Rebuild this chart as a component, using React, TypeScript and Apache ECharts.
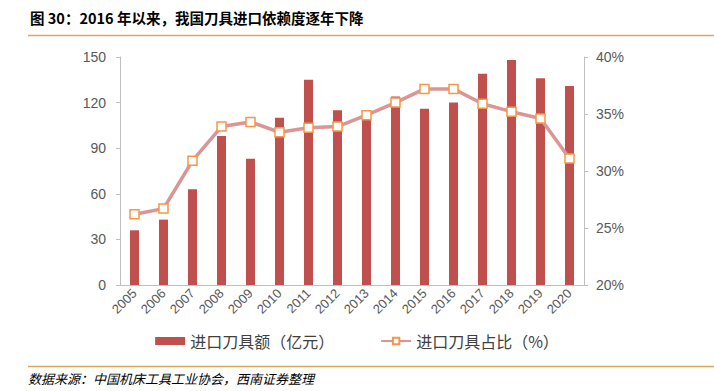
import React, { useEffect, useRef } from "react";
import * as echarts from "echarts";

const years = ["2005","2006","2007","2008","2009","2010","2011","2012","2013","2014","2015","2016","2017","2018","2019","2020"];
const importValue = [36, 43, 63, 98, 83, 110, 135, 115, 115, 124, 116, 120, 139, 148, 136, 131];
const importShare = [26.2, 26.7, 30.9, 33.9, 34.3, 33.4, 33.8, 33.9, 34.9, 36.0, 37.2, 37.2, 35.9, 35.2, 34.6, 31.1];
const leftTicks = { min: 0, max: 150, interval: 30 };
const rightTicks = { min: 20, max: 40, interval: 5 };

const titleText = "图 30：2016 年以来，我国刀具进口依赖度逐年下降";
const sourceText = "数据来源：中国机床工具工业协会，西南证券整理";
const barName = "进口刀具额（亿元）";
const lineName = "进口刀具占比（%）";

export default function App() {
  const ref = useRef<HTMLDivElement>(null);
  useEffect(() => {
    if (!ref.current) return;
    const chart = echarts.init(ref.current, null, { renderer: "svg" });
    const font = "'Liberation Sans', Arial, 'Noto Sans CJK SC', sans-serif";
    const cjk = "'Noto Sans CJK SC', sans-serif";
    chart.setOption({
      animation: false,
      backgroundColor: "#ffffff",
      grid: { left: 120, right: 130, top: 57, bottom: 106 },
      legend: {
        bottom: 37,
        left: "center",
        itemWidth: 30,
        itemHeight: 8,
        itemGap: 46,
        textStyle: { fontFamily: cjk, fontSize: 16, color: "#404040" },
        data: [
          { name: barName, icon: "rect" },
          { name: lineName },
        ],
      },
      xAxis: {
        type: "category",
        data: years,
        boundaryGap: true,
        axisLine: { lineStyle: { color: "#bfbfbf", width: 1 } },
        axisTick: { show: false },
        axisLabel: { rotate: 45, fontSize: 13, color: "#595959", fontFamily: font, margin: 6, interval: 0 },
      },
      yAxis: [
        {
          type: "value",
          min: leftTicks.min,
          max: leftTicks.max,
          interval: leftTicks.interval,
          position: "left",
          axisLine: { show: true, lineStyle: { color: "#bfbfbf" } },
          axisTick: { show: true, length: 4, lineStyle: { color: "#bfbfbf" } },
          splitLine: { show: false },
          axisLabel: { fontSize: 14, color: "#595959", fontFamily: font, margin: 14 },
        },
        {
          type: "value",
          min: rightTicks.min,
          max: rightTicks.max,
          interval: rightTicks.interval,
          position: "right",
          axisLine: { show: true, lineStyle: { color: "#bfbfbf" } },
          axisTick: { show: true, length: 4, lineStyle: { color: "#bfbfbf" } },
          splitLine: { show: false },
          axisLabel: { fontSize: 14, color: "#595959", fontFamily: font, margin: 12, formatter: "{value}%" },
        },
      ],
      series: [
        {
          name: barName,
          type: "bar",
          data: importValue,
          barWidth: 9,
          itemStyle: { color: "#c0504d" },
        },
        {
          name: lineName,
          type: "line",
          yAxisIndex: 1,
          data: importShare,
          symbol: "rect",
          symbolSize: 9,
          z: 5,
          lineStyle: { color: "#d99694", width: 3.5 },
          itemStyle: { color: "#ffffff", borderColor: "#f79646", borderWidth: 1.5 },
        },
      ],
      graphic: [
        {
          type: "text",
          left: 30,
          top: 10,
          style: { text: titleText, fontFamily: cjk, fontWeight: "bold", fontSize: 14.5, fill: "#000000" },
        },
        {
          type: "line",
          shape: { x1: 28, y1: 35.5, x2: 714, y2: 35.5 },
          style: { stroke: "#d9a65c", lineWidth: 1.5 },
        },
        {
          type: "line",
          shape: { x1: 28, y1: 366.5, x2: 714, y2: 366.5 },
          style: { stroke: "#d9a65c", lineWidth: 1.5 },
        },
        {
          type: "text",
          left: 28,
          top: 372,
          style: { text: sourceText, fontFamily: cjk, fontStyle: "italic", fontSize: 13, fill: "#000000" },
        },
      ],
    });
    return () => chart.dispose();
  }, []);
  return <div ref={ref} style={{ position: "fixed", left: 0, top: 0, width: 714, height: 391 }} />;
}
